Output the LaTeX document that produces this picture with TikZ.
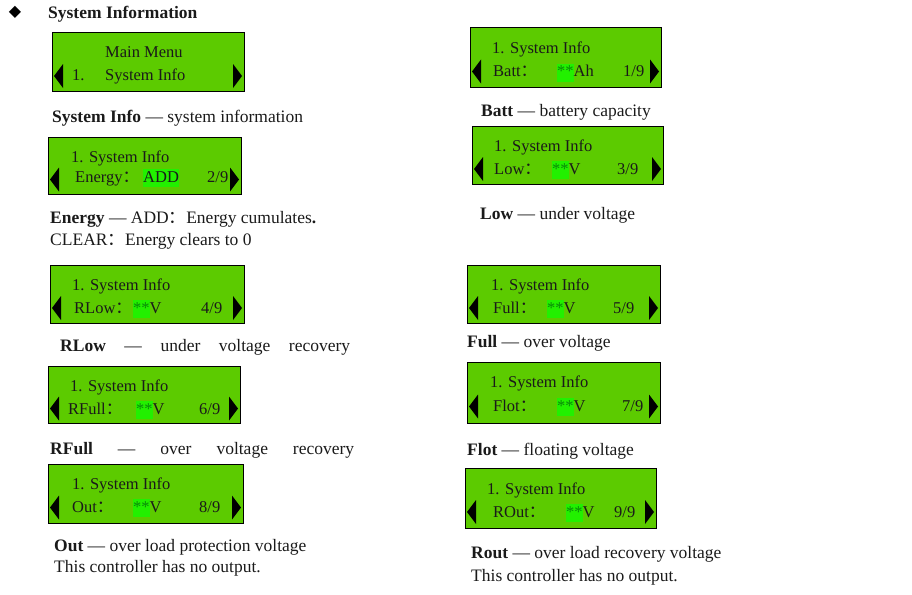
\documentclass[tikz,border=0pt]{standalone}
\usepackage{fontspec}
\setmainfont{Liberation Serif}
\newfontfamily\cjk{Noto Sans CJK SC}
\newfontfamily\dvs{DejaVu Sans}
\definecolor{lcdg}{HTML}{5CCB00}
\definecolor{hig}{HTML}{22F000}
\definecolor{star}{HTML}{0A8A0A}
\definecolor{ink}{HTML}{1A1A1A}
\newcommand{\cc}{{\cjk ：}}
\newcommand{\hl}[1]{{\setlength{\fboxsep}{0pt}\colorbox{hig}{\strut #1}}}
\newcommand{\st}{\hl{\textcolor{star}{**}}}
\tikzset{
 lcd/.style={draw=black, line width=1pt, fill=lcdg},
 tri/.style={fill=black, draw=none},
 lt/.style={anchor=base west, inner sep=0pt, font=\fontsize{16.5}{18}\selectfont, text=ink},
 ds/.style={anchor=base west, inner sep=0pt, font=\fontsize{17.5}{20}\selectfont, text=ink},
}
\newcommand{\lcdbox}[5]{%
 \path[lcd] (#2,#3) rectangle (#4,#5);
 \coordinate (#1) at (#2,#3);
 \path[tri] (#2+2,#5-#5/2+#3/2+14) -- ++(9,-12) -- ++(0,24) -- cycle;
 \path[tri] (#4-2,#5-#5/2+#3/2+14) -- ++(-9,-12) -- ++(0,24) -- cycle;
}
\begin{document}
\begin{tikzpicture}[x=1pt,y=-1pt]
\path[use as bounding box] (0,0) rectangle (912,594);
\node[anchor=center, inner sep=0pt, font=\dvs\fontsize{16}{16}\selectfont] (dia) at (15,12) {◆};
\node[ds, font=\fontsize{17.5}{20}\selectfont\bfseries] (head) at (48,19) {System Information};
% boxes
\lcdbox{b1}{52}{33}{244}{91}
\lcdbox{b2}{48}{137}{241}{194}
\lcdbox{b3}{470}{28}{661}{87}
\lcdbox{b4}{472}{126}{663}{184}
\lcdbox{b5}{50}{265}{244}{323}
\lcdbox{b6}{467}{265}{660}{323}
\lcdbox{b7}{48}{366}{240}{423}
\lcdbox{b8}{467}{362}{660}{423}
\lcdbox{b9}{48}{464}{243}{523}
\lcdbox{b10}{465}{468}{656}{528}
% box 1
\node[lt] (t1a) at (105,58) {Main Menu};
\node[lt] (t1b) at (72,81) {1.};
\node[lt] (t1c) at (105,81) {System Info};
% box 2
\node[lt] (t2a) at (71,162) {1. System Info};
\node[lt] (t2b) at (75,182) {Energy\cc};
\node[lt] (t2c) at (143,182) {\hl{ADD}};
\node[lt] (t2d) at (207,182) {2/9};
% box 3
\node[lt] (t3a) at (492,54) {1. System Info};
\node[lt] (t3b) at (493,77) {Batt\cc};
\node[lt] (t3c) at (557,77) {\st Ah};
\node[lt] (t3d) at (623,77) {1/9};
% box 4
\node[lt] (t4a) at (494,151) {1. System Info};
\node[lt] (t4b) at (494,174) {Low\cc};
\node[lt] (t4c) at (552,174) {\st V};
\node[lt] (t4d) at (617,174) {3/9};
% box 5
\node[lt] (t5a) at (72,290) {1. System Info};
\node[lt] (t5b) at (74,313) {RLow\cc};
\node[lt] (t5c) at (133,313) {\st V};
\node[lt] (t5d) at (201,313) {4/9};
% box 6
\node[lt] (t6a) at (491,290) {1. System Info};
\node[lt] (t6b) at (493,313) {Full\cc};
\node[lt] (t6c) at (547,313) {\st V};
\node[lt] (t6d) at (613,313) {5/9};
% box 7
\node[lt] (t7a) at (70,391) {1. System Info};
\node[lt] (t7b) at (68,414) {RFull\cc};
\node[lt] (t7c) at (136,414) {\st V};
\node[lt] (t7d) at (199,414) {6/9};
% box 8
\node[lt] (t8a) at (490,387) {1. System Info};
\node[lt] (t8b) at (493,411) {Flot\cc};
\node[lt] (t8c) at (557,411) {\st V};
\node[lt] (t8d) at (622,411) {7/9};
% box 9
\node[lt] (t9a) at (72,489) {1. System Info};
\node[lt] (t9b) at (72,512) {Out\cc};
\node[lt] (t9c) at (133,512) {\st V};
\node[lt] (t9d) at (199,512) {8/9};
% box 10
\node[lt] (t10a) at (487,494) {1. System Info};
\node[lt] (t10b) at (493,517) {ROut\cc};
\node[lt] (t10c) at (566,517) {\st V};
\node[lt] (t10d) at (614,517) {9/9};
% descriptions
\node[ds] (d1) at (52,122) {\textbf{System Info} — system information};
\node[ds] (d2) at (50,223) {\textbf{Energy} — ADD\cc Energy cumulates\textbf{.}};
\node[ds] (d2b) at (50,245) {CLEAR\cc Energy clears to 0};
\node[ds] (d3) at (481,116) {\textbf{Batt} — battery capacity};
\node[ds] (d4) at (480,219) {\textbf{Low} — under voltage};
\node[ds] (d5) at (60,351) {\makebox[290pt][s]{\textbf{RLow} \ — \ under \ voltage \ recovery}};
\node[ds] (d6) at (467,347) {\textbf{Full} — over voltage};
\node[ds] (d7) at (50,454) {\makebox[304pt][s]{\textbf{RFull} \ — \ over \ voltage \ recovery}};
\node[ds] (d8) at (467,455) {\textbf{Flot} — floating voltage};
\node[ds] (d9) at (54,551) {\textbf{Out} — over load protection voltage};
\node[ds] (d9b) at (54,572) {This controller has no output.};
\node[ds] (d10) at (471,558) {\textbf{Rout} — over load recovery voltage};
\node[ds] (d10b) at (471,581) {This controller has no output.};
\end{tikzpicture}
\end{document}
